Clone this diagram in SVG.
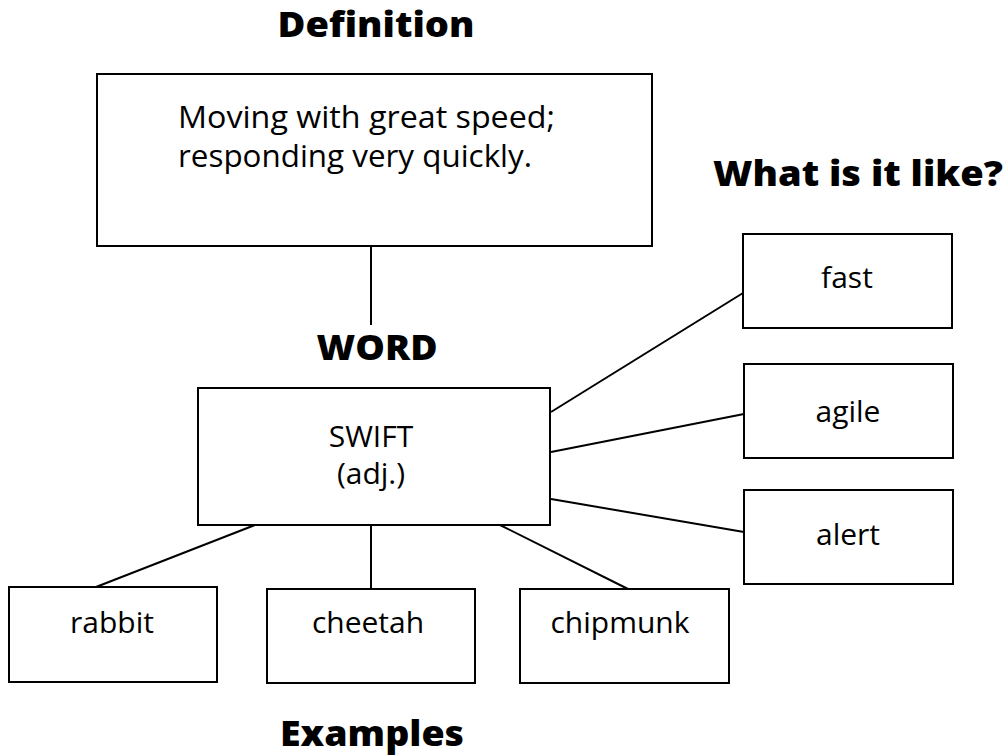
<svg xmlns="http://www.w3.org/2000/svg" width="1008" height="756" viewBox="0 0 1008 756">
<style>
.box{fill:#fff;stroke:#000;stroke-width:2}
.t{font-family:"Open Sans","Noto Sans","Liberation Sans",sans-serif;font-size:30px;fill:#000;text-anchor:middle}
.d{font-family:"Open Sans","Noto Sans","Liberation Sans",sans-serif;font-size:31px;fill:#000}
.h{font-family:"Open Sans","Noto Sans","Liberation Sans",sans-serif;font-size:35px;font-weight:800;fill:#000;text-anchor:middle}
.c{stroke:#000;stroke-width:2;fill:none}
</style>
<rect width="1008" height="756" fill="#fff"/>
<g id="connectors">
<line class="c" x1="371" y1="246" x2="371" y2="325"/>
<line class="c" x1="551" y1="412" x2="743" y2="293"/>
<line class="c" x1="551" y1="452" x2="744" y2="414"/>
<line class="c" x1="551" y1="499" x2="744" y2="532"/>
<line class="c" x1="255" y1="525" x2="96" y2="587"/>
<line class="c" x1="371" y1="525" x2="371" y2="589"/>
<line class="c" x1="500" y1="525" x2="628" y2="589"/>
</g>
<g id="title-definition"><text class="h" x="376" y="37" textLength="197" lengthAdjust="spacingAndGlyphs">Definition</text></g>
<g id="definition">
<rect class="box" x="97" y="74" width="555" height="172"/>
<text class="d" x="178" y="128" textLength="377" lengthAdjust="spacingAndGlyphs">Moving with great speed;</text>
<text class="d" x="178" y="167" textLength="354" lengthAdjust="spacingAndGlyphs">responding very quickly.</text>
</g>
<g id="title-like"><text class="h" x="858" y="186" textLength="290" lengthAdjust="spacingAndGlyphs">What is it like?</text></g>
<g id="title-word"><text class="h" x="377" y="360" textLength="121" lengthAdjust="spacingAndGlyphs">WORD</text></g>
<g id="word">
<rect class="box" x="198" y="388" width="352" height="137"/>
<text class="t" x="371" y="447">SWIFT</text>
<text class="t" x="371" y="484">(adj.)</text>
</g>
<g id="fast"><rect class="box" x="743" y="234" width="209" height="94"/><text class="t" x="847" y="288">fast</text></g>
<g id="agile"><rect class="box" x="744" y="364" width="209" height="94"/><text class="t" x="848" y="422">agile</text></g>
<g id="alert"><rect class="box" x="744" y="490" width="209" height="94"/><text class="t" x="848" y="545">alert</text></g>
<g id="rabbit"><rect class="box" x="9" y="587" width="208" height="95"/><text class="t" x="112" y="633">rabbit</text></g>
<g id="cheetah"><rect class="box" x="267" y="589" width="208" height="94"/><text class="t" x="368" y="633">cheetah</text></g>
<g id="chipmunk"><rect class="box" x="520" y="589" width="209" height="94"/><text class="t" x="620" y="633">chipmunk</text></g>
<g id="title-examples"><text class="h" x="372" y="746" textLength="184" lengthAdjust="spacingAndGlyphs">Examples</text></g>
</svg>
